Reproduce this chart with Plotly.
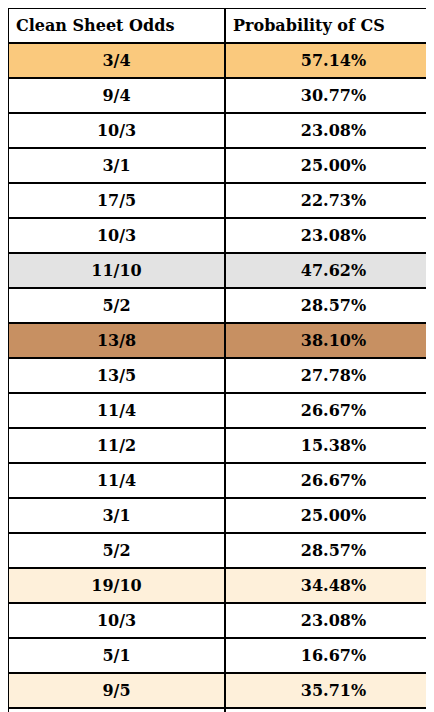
import plotly.graph_objects as go

odds = ["3/4", "9/4", "10/3", "3/1", "17/5", "10/3", "11/10", "5/2", "13/8", "13/5",
        "11/4", "11/2", "11/4", "3/1", "5/2", "19/10", "10/3", "5/1", "9/5", "7/1"]
probs = ["57.14%", "30.77%", "23.08%", "25.00%", "22.73%", "23.08%", "47.62%", "28.57%",
         "38.10%", "27.78%", "26.67%", "15.38%", "26.67%", "25.00%", "28.57%", "34.48%",
         "23.08%", "16.67%", "35.71%", "12.50%"]

highlight = {0: "#FAC97D", 6: "#E3E3E3", 8: "#C79062", 15: "#FEF0DA", 18: "#FEF0DA"}
fills = [highlight.get(i, "white") for i in range(len(odds))]

fig = go.Figure(go.Table(
    columnwidth=[217, 217],
    header=dict(
        values=["<b>Clean Sheet Odds</b>", "<b>Probability of CS</b>"],
        align="left", height=30, fill_color="white",
        line=dict(color="black", width=2),
        font=dict(family="DejaVu Serif", size=16, color="black"),
    ),
    cells=dict(
        values=[[f"<b>{o}</b>" for o in odds], [f"<b>{p}</b>" for p in probs]],
        align="center", height=33, fill_color=[fills, fills],
        line=dict(color="black", width=2),
        font=dict(family="DejaVu Serif", size=16, color="black"),
    ),
    domain=dict(x=[0, 1], y=[0, 1]),
))

fig.update_layout(width=434, height=712, margin=dict(l=0, r=0, t=0, b=0),
                  paper_bgcolor="white")

fig.write_html("out.html")
